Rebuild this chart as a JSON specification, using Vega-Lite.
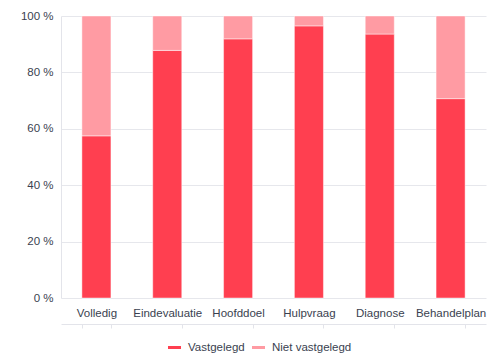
{
  "$schema": "https://vega.github.io/schema/vega-lite/v6.json",
  "autosize": {"type": "none"},
  "width": 425,
  "height": 282,
  "padding": {"left": 61, "top": 16, "right": 11, "bottom": 56},
  "background": "#ffffff",
  "config": {
    "view": {"stroke": null},
    "font": "Liberation Sans",
    "axis": {"labelFont": "Liberation Sans", "labelFontSize": 11.5, "labelColor": "#3a3f50"},
    "legend": {"labelFont": "Liberation Sans", "labelFontSize": 11.5, "labelColor": "#3a3f50"}
  },
  "data": {
    "values": [
      {"categorie": "Volledig", "status": "Vastgelegd", "percentage": 57.5},
      {"categorie": "Volledig", "status": "Niet vastgelegd", "percentage": 42.5},
      {"categorie": "Eindevaluatie", "status": "Vastgelegd", "percentage": 87.8},
      {"categorie": "Eindevaluatie", "status": "Niet vastgelegd", "percentage": 12.2},
      {"categorie": "Hoofddoel", "status": "Vastgelegd", "percentage": 91.9},
      {"categorie": "Hoofddoel", "status": "Niet vastgelegd", "percentage": 8.1},
      {"categorie": "Hulpvraag", "status": "Vastgelegd", "percentage": 96.5},
      {"categorie": "Hulpvraag", "status": "Niet vastgelegd", "percentage": 3.5},
      {"categorie": "Diagnose", "status": "Vastgelegd", "percentage": 93.6},
      {"categorie": "Diagnose", "status": "Niet vastgelegd", "percentage": 6.4},
      {"categorie": "Behandelplan", "status": "Vastgelegd", "percentage": 70.7},
      {"categorie": "Behandelplan", "status": "Niet vastgelegd", "percentage": 29.3}
    ]
  },
  "transform": [
    {"calculate": "datum.status == 'Vastgelegd' ? 0 : 1", "as": "volgorde"}
  ],
  "mark": {"type": "bar", "stroke": "#ffffff", "strokeWidth": 1, "strokeOpacity": 0.45},
  "encoding": {
    "x": {
      "field": "categorie",
      "type": "nominal",
      "sort": null,
      "scale": {"paddingInner": 0.59, "paddingOuter": 0.295},
      "axis": {
        "title": null,
        "labelAngle": 0,
        "labelPadding": -21,
        "offset": 26,
        "domain": true,
        "domainColor": "#e3e4ea",
        "ticks": true,
        "tickBand": "extent",
        "tickColor": "#e3e4ea",
        "tickSize": 4,
        "encode": {"ticks": {"update": {"y": {"value": -26}, "y2": {"value": -22}}}}
      }
    },
    "y": {
      "field": "percentage",
      "type": "quantitative",
      "stack": "zero",
      "scale": {"domain": [0, 100]},
      "axis": {
        "title": null,
        "values": [0, 20, 40, 60, 80, 100],
        "labelExpr": "datum.value + ' %'",
        "ticks": false,
        "labelPadding": 8,
        "domain": true,
        "domainColor": "#e3e4ea",
        "gridColor": "#e6e7ec"
      }
    },
    "color": {
      "field": "status",
      "type": "nominal",
      "sort": ["Vastgelegd", "Niet vastgelegd"],
      "scale": {"domain": ["Vastgelegd", "Niet vastgelegd"], "range": ["#ff3f50", "#ff9ba3"]},
      "legend": {
        "title": null,
        "orient": "none",
        "direction": "horizontal",
        "legendX": 107,
        "legendY": 325,
        "symbolType": "M-1,-0.23H1V0.23H-1Z",
        "symbolSize": 169,
        "symbolStrokeWidth": 0,
        "labelOffset": 7,
        "columnPadding": 7
      }
    },
    "order": {"field": "volgorde", "type": "quantitative"}
  }
}
